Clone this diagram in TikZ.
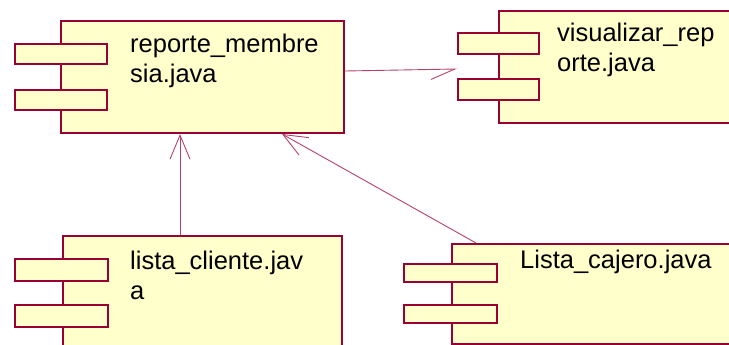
\documentclass[tikz,border=0pt]{standalone}
\usepackage{fontspec}
\setmainfont{Liberation Sans}
\usetikzlibrary{arrows.meta}
\definecolor{bordo}{HTML}{990033}
\definecolor{fillc}{HTML}{FFFFCC}
\definecolor{linkc}{HTML}{B8406A}
\begin{document}
\begin{tikzpicture}[x=1pt,y=-1pt,
  comp/.style={draw=bordo,fill=fillc,line width=2pt,inner sep=0pt,anchor=north west},
  port/.style={draw=bordo,fill=fillc,line width=2pt,inner sep=0pt,anchor=north west},
  lbl/.style={inner sep=0pt,anchor=base west,align=left,font=\fontsize{25.5}{30}\selectfont},
  dep/.style={draw=linkc,line width=0.9pt,-{Straight Barb[length=24pt,width=20pt,line width=0.9pt]}},
  half/.style={draw=linkc,line width=0.9pt,-{Straight Barb[harpoon,swap,length=24pt,width=20pt,line width=0.9pt]}}]
\useasboundingbox (0,0) rectangle (729,345);
\begin{scope}
\clip (0,0) rectangle (729,345);
% reporte_membresia
\node[comp,minimum width=283pt,minimum height=112pt] (A) at (60,20) {};
\node[port,minimum width=92pt,minimum height=20pt] (A1) at (14,43) {};
\node[port,minimum width=92pt,minimum height=20pt] (A2) at (14,89) {};
\node[lbl] (Al) at (130,83) {reporte\_membre\\sia.java};
% visualizar_reporte
\node[comp,minimum width=250pt,minimum height=112pt] (B) at (498,10) {};
\node[port,minimum width=81pt,minimum height=21pt] (B1) at (457,32) {};
\node[port,minimum width=81pt,minimum height=21pt] (B2) at (457,78) {};
\node[lbl] (Bl) at (557,72) {visualizar\_rep\\orte.java};
% lista_cliente
\node[comp,minimum width=279pt,minimum height=130pt] (C) at (62,235) {};
\node[port,minimum width=93pt,minimum height=22pt] (C1) at (14,258) {};
\node[port,minimum width=93pt,minimum height=22pt] (C2) at (14,304) {};
\node[lbl] (Cl) at (130,299) {lista\_cliente.jav\\a};
% Lista_cajero
\node[comp,minimum width=300pt,minimum height=100pt] (D) at (451,243) {};
\node[port,minimum width=93pt,minimum height=18pt] (D1) at (403,263) {};
\node[port,minimum width=93pt,minimum height=18pt] (D2) at (403,304) {};
\node[lbl] (Dl) at (520,268) {Lista\_cajero.java};
\end{scope}
% connectors
\coordinate (Bt) at (457,69);
\draw[half] (A.east |- 0,71) -- (Bt);
\draw[dep] (C.north -| 180,0) -- (A.south -| 180,0);
\draw[dep] (D.north -| 476,0) -- (A.south -| 282,0);
\end{tikzpicture}
\end{document}
